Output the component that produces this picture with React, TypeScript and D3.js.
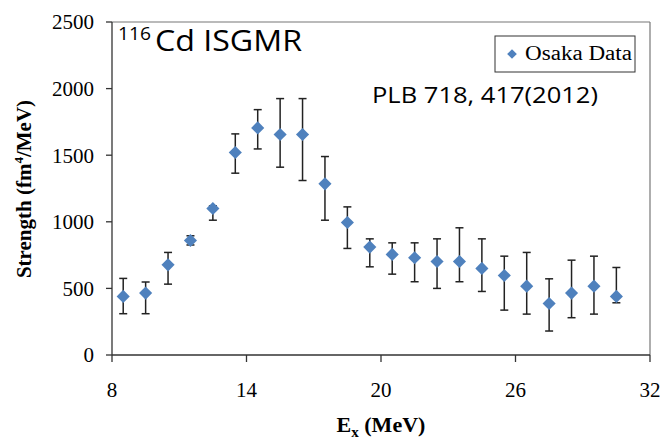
import React from "react";
import * as d3 from "d3";

const energies = [8.5, 9.5, 10.5, 11.5, 12.5, 13.5, 14.5, 15.5, 16.5, 17.5, 18.5, 19.5, 20.5, 21.5, 22.5, 23.5, 24.5, 25.5, 26.5, 27.5, 28.5, 29.5, 30.5];
const strength = [440, 465, 677, 860, 1100, 1520, 1705, 1655, 1655, 1285, 995, 810, 755, 730, 702, 702, 650, 597, 517, 387, 465, 517, 440];
const errUpper = [575, 548, 770, 895, 1120, 1660, 1842, 1925, 1925, 1490, 1112, 872, 842, 842, 872, 955, 872, 742, 770, 572, 712, 742, 657];
const errLower = [310, 310, 532, 826, 1012, 1365, 1547, 1410, 1310, 1012, 800, 662, 607, 550, 500, 550, 477, 337, 307, 180, 280, 307, 392];
const xTicks = [8, 14, 20, 26, 32];
const yTicks = [0, 500, 1000, 1500, 2000, 2500];

const W = 662, H = 441;
const L = 112, R = 650, T = 22, B = 355;

export default function App() {
  const x = d3.scaleLinear().domain([8, 32]).range([L, R]);
  const y = d3.scaleLinear().domain([0, 2500]).range([B, T]);
  const diamond = d3.symbol().type(d3.symbolDiamond2).size(110)();
  const serif = "'Liberation Serif', 'Times New Roman', serif";
  const sans = "'Open Sans', 'Noto Sans', sans-serif";
  return (
    <svg width={W} height={H} style={{ position: "absolute", left: 0, top: 0, background: "#fff" }}>
      <rect x={0} y={0} width={W} height={H} fill="#fff" />
      {/* plot border */}
      <line x1={L} x2={R} y1={T} y2={T} stroke="#777" strokeWidth={1.2} />
      <line x1={R} x2={R} y1={T} y2={B} stroke="#777" strokeWidth={1.2} />
      {/* axes */}
      <line x1={L} x2={L} y1={T} y2={B} stroke="#333" strokeWidth={1.3} />
      <line x1={L} x2={R} y1={B} y2={B} stroke="#333" strokeWidth={1.3} />
      {yTicks.map((t) => (
        <g key={"y" + t}>
          <line x1={L - 6} x2={L} y1={y(t)} y2={y(t)} stroke="#333" strokeWidth={1.3} />
          <text x={L - 18} y={y(t)} dy="0.35em" textAnchor="end" fontFamily={serif} fontSize={21} fill="#000">{t}</text>
        </g>
      ))}
      {xTicks.map((t) => (
        <g key={"x" + t}>
          <line x1={x(t)} x2={x(t)} y1={B} y2={B + 7} stroke="#333" strokeWidth={1.3} />
          <text x={x(t)} y={B + 42} textAnchor="middle" fontFamily={serif} fontSize={21} fill="#000">{t}</text>
        </g>
      ))}
      {/* error bars */}
      {energies.map((e, i) => (
        <g key={"e" + i} stroke="#222" strokeWidth={1.5}>
          <line x1={x(e)} x2={x(e)} y1={y(errUpper[i])} y2={y(errLower[i])} />
          <line x1={x(e) - 4} x2={x(e) + 4} y1={y(errUpper[i])} y2={y(errUpper[i])} />
          <line x1={x(e) - 4} x2={x(e) + 4} y1={y(errLower[i])} y2={y(errLower[i])} />
        </g>
      ))}
      {energies.map((e, i) => (
        <path key={"p" + i} d={diamond!} transform={`translate(${x(e)},${y(strength[i])})`} fill="#4F81BD" />
      ))}
      {/* title */}
      <text x={118} y={40} fontFamily={sans} fontSize={19} textLength={33} lengthAdjust="spacingAndGlyphs" fill="#000">116</text>
      <text x={155} y={51} fontFamily={sans} fontSize={30} textLength={147} lengthAdjust="spacingAndGlyphs" fill="#000">Cd ISGMR</text>
      <text x={372} y={103} fontFamily={sans} fontSize={22} textLength={226} lengthAdjust="spacingAndGlyphs" fill="#000">PLB 718, 417(2012)</text>
      {/* legend */}
      <rect x={495} y={36} width={140} height={36} fill="#fff" stroke="#333" strokeWidth={1} />
      <path d={d3.symbol().type(d3.symbolDiamond2).size(60)()!} transform="translate(512,54)" fill="#4F81BD" />
      <text x={525} y={60} fontFamily={serif} fontSize={20} textLength={107} lengthAdjust="spacingAndGlyphs" fill="#000">Osaka Data</text>
      {/* axis titles */}
      <text transform={`translate(31,189) rotate(-90)`} textAnchor="middle" fontFamily={serif} fontWeight="bold" fontSize={21} fill="#000">
        Strength (fm<tspan fontSize={13} dy={-8}>4</tspan><tspan dy={8}>/MeV)</tspan>
      </text>
      <text x={381} y={432} textAnchor="middle" fontFamily={serif} fontWeight="bold" fontSize={22} fill="#000">
        E<tspan fontSize={15} dy={5}>x</tspan><tspan dy={-5}> (MeV)</tspan>
      </text>
    </svg>
  );
}
